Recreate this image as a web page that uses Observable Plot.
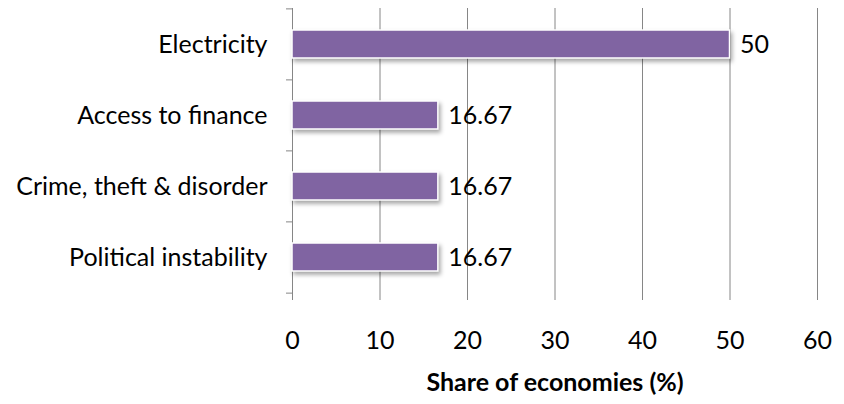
<!DOCTYPE html>
<html><head><meta charset="utf-8">
<script src="https://cdn.jsdelivr.net/npm/d3@7"></script>
<script src="https://cdn.jsdelivr.net/npm/@observablehq/plot@0.6"></script>
<style>html,body{margin:0;padding:0;background:#fff} #chart svg{display:block}</style>
</head><body><div id="chart"></div>
<script>
const categories = ["Electricity", "Access to finance", "Crime, theft & disorder", "Political instability"];
const values = [50, 16.67, 16.67, 16.67];
const valueLabels = ["50", "16.67", "16.67", "16.67"];
const xTicks = [0, 10, 20, 30, 40, 50, 60];
const xTitle = "Share of economies (%)";

const data = categories.map((c, i) => ({category: c, value: values[i], label: valueLabels[i]}));
const W = 844, H = 404, mt = 8, mb = 111, ml = 292, mr = 27;
const step = (H - mt - mb) / categories.length;
const gray = "#868686";
const fs = 25;

const chart = Plot.plot({
  width: W, height: H,
  marginTop: mt, marginBottom: mb, marginLeft: ml, marginRight: mr,
  style: {fontFamily: "Lato, sans-serif", fontSize: fs + "px", color: "#000", background: "#fff", overflow: "visible"},
  x: {domain: [0, 60], ticks: xTicks, label: null},
  y: {domain: categories, paddingInner: 0.61, paddingOuter: 0.305, label: null},
  marks: [
    Plot.ruleX(xTicks, {stroke: gray, strokeWidth: 1}),
    Plot.ruleY(categories, {y: d => d, x1: 0, x2: 0, insetLeft: -6, stroke: gray, dy: -step / 2}),
    Plot.ruleY(categories.slice(-1), {y: d => d, x1: 0, x2: 0, insetLeft: -6, stroke: gray, dy: step / 2}),
    Plot.barX(data, {x: "value", y: "category", fill: "#8064A2", stroke: "#fff", strokeWidth: 1.5}),
    Plot.text(data, {x: "value", y: "category", text: "label", textAnchor: "start", dx: 10, fontSize: fs, fill: "#000"}),
    Plot.axisX({ticks: xTicks, tickSize: 7, stroke: gray, tickPadding: 31, fontSize: fs, label: null, fill: "#000"}),
    Plot.axisY({tickSize: 0, tickPadding: 25, fontSize: fs, label: null, fill: "#000"}),
    Plot.text([xTitle], {text: d => d, frameAnchor: "bottom", dy: 97, fontWeight: "bold", fontSize: fs, fill: "#000"})
  ]
});
d3.select(chart).selectAll('g[aria-label="bar"]').style("filter", "drop-shadow(2px 3px 2px rgba(0,0,0,0.35))");
document.getElementById("chart").appendChild(chart);
</script>
</body></html>
